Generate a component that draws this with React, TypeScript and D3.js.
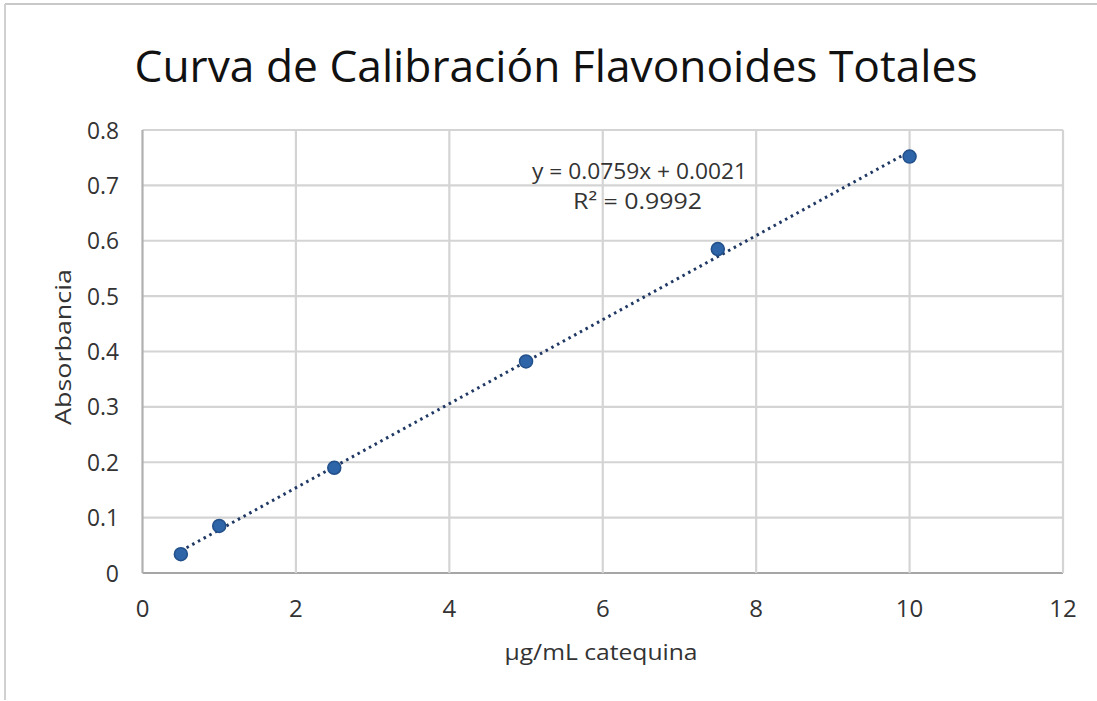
import React from "react";
import * as d3 from "d3";

const concentrations = [0.5, 1, 2.5, 5, 7.5, 10];
const absorbances = [0.034, 0.085, 0.19, 0.382, 0.585, 0.752];
const xTicks = [0, 2, 4, 6, 8, 10, 12];
const yTicks = [0, 0.1, 0.2, 0.3, 0.4, 0.5, 0.6, 0.7, 0.8];
const slope = 0.0759;
const intercept = 0.0021;
const titleText = "Curva de Calibración Flavonoides Totales";
const xLabel = "μg/mL catequina";
const yLabel = "Absorbancia";
const eqText = "y = 0.0759x + 0.0021";
const r2Text = "R² = 0.9992";

const W = 1097;
const H = 701;
const FONT = "'Open Sans', Roboto, sans-serif";

export default function App() {
  const x = d3.scaleLinear().domain([0, 12]).range([142.5, 1063]);
  const y = d3.scaleLinear().domain([0, 0.8]).range([573, 130]);
  const trendX = [d3.min(concentrations)!, d3.max(concentrations)!];
  const line = d3
    .line<number>()
    .x((d) => x(d))
    .y((d) => y(slope * d + intercept));

  return (
    <svg
      width={W}
      height={H}
      style={{ position: "absolute", left: 0, top: 0, background: "#fff" }}
    >
      <rect x={0} y={0} width={W} height={H} fill="#fff" />
      <line x1={5} y1={4} x2={W} y2={4} stroke="#c8c8c8" strokeWidth={2} />
      <line x1={5} y1={4} x2={5} y2={700} stroke="#d0d0d0" strokeWidth={2} />
      <text
        x={556}
        y={82}
        textAnchor="middle"
        fontFamily={FONT}
        fontSize={44}
        fill="#111"
        textLength={843}
        lengthAdjust="spacingAndGlyphs"
      >
        {titleText}
      </text>
      {/* grid */}
      {yTicks.map((t) => (
        <line
          key={"gy" + t}
          x1={x(0)}
          x2={x(12)}
          y1={y(t)}
          y2={y(t)}
          stroke={t === 0 ? "#a6a6a6" : "#d4d4d4"}
          strokeWidth={2.2}
        />
      ))}
      {xTicks.map((t) => (
        <line
          key={"gx" + t}
          x1={x(t)}
          x2={x(t)}
          y1={y(0)}
          y2={y(0.8)}
          stroke={t === 0 ? "#b0b0b0" : "#d4d4d4"}
          strokeWidth={2.2}
        />
      ))}
      {/* tick labels */}
      {yTicks.map((t) => (
        <text
          key={"ty" + t}
          x={119}
          y={y(t) + 8.5}
          textAnchor="end"
          fontFamily={FONT}
          fontSize={23}
          fill="#333"
          textLength={t === 0 ? undefined : 32}
          lengthAdjust="spacingAndGlyphs"
        >
          {t === 0 ? "0" : d3.format(".1f")(t)}
        </text>
      ))}
      {xTicks.map((t) => (
        <text
          key={"tx" + t}
          x={x(t)}
          y={617}
          textAnchor="middle"
          fontFamily={FONT}
          fontSize={24}
          fill="#333"
        >
          {t}
        </text>
      ))}
      <text
        x={601}
        y={660}
        textAnchor="middle"
        fontFamily={FONT}
        fontSize={22}
        fill="#333"
        textLength={193}
        lengthAdjust="spacingAndGlyphs"
      >
        {xLabel}
      </text>
      <text
        transform={`translate(71,347) rotate(-90)`}
        textAnchor="middle"
        fontFamily={FONT}
        fontSize={22}
        fill="#333"
        textLength={156}
        lengthAdjust="spacingAndGlyphs"
      >
        {yLabel}
      </text>
      {/* trendline */}
      <path
        d={line(trendX) || ""}
        fill="none"
        stroke="#1f3864"
        strokeWidth={3}
        strokeDasharray="2.5 4"
        strokeLinecap="butt"
      />
      {/* points */}
      {concentrations.map((c, i) => (
        <circle
          key={"p" + i}
          cx={x(c)}
          cy={y(absorbances[i])}
          r={6.5}
          fill="#2e64a8"
          stroke="#22508a"
          strokeWidth={1.5}
        />
      ))}
      {/* equation */}
      <text
        x={639.5}
        y={179}
        textAnchor="middle"
        fontFamily={FONT}
        fontSize={22}
        fill="#333"
        textLength={215}
        lengthAdjust="spacingAndGlyphs"
      >
        {eqText}
      </text>
      <text
        x={637.5}
        y={209}
        textAnchor="middle"
        fontFamily={FONT}
        fontSize={22}
        fill="#333"
        textLength={129}
        lengthAdjust="spacingAndGlyphs"
      >
        {r2Text}
      </text>
    </svg>
  );
}
